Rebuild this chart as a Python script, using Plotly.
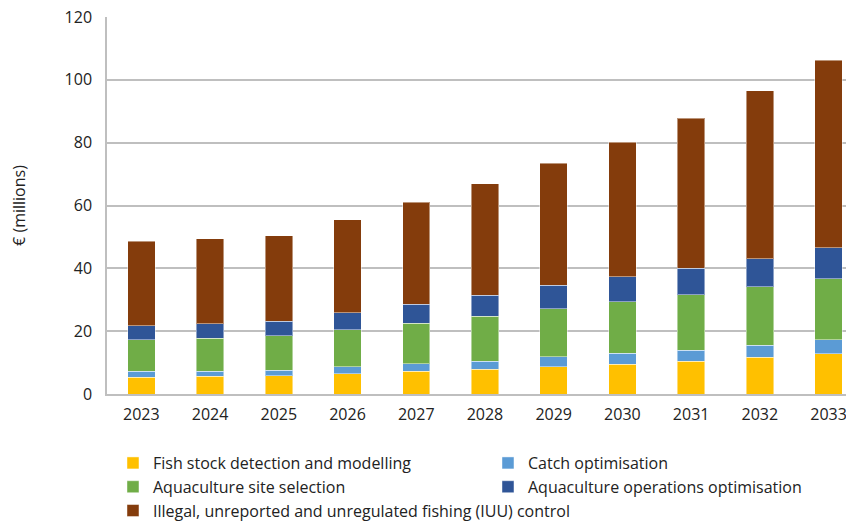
import plotly.graph_objects as go

years = ["2023", "2024", "2025", "2026", "2027", "2028", "2029", "2030", "2031", "2032", "2033"]

fish_stock = [5.4, 5.6, 5.8, 6.4, 7.2, 7.9, 8.6, 9.5, 10.5, 11.7, 12.8]
catch_opt = [1.8, 1.7, 1.8, 2.2, 2.4, 2.6, 3.2, 3.4, 3.5, 3.8, 4.4]
aqua_site = [10.0, 10.5, 10.9, 11.9, 13.0, 14.2, 15.4, 16.5, 17.6, 18.7, 19.5]
aqua_ops = [4.5, 4.6, 4.7, 5.3, 5.9, 6.7, 7.4, 7.9, 8.4, 8.8, 9.8]
iuu = [27.0, 27.0, 27.1, 29.6, 32.5, 35.6, 38.8, 42.9, 47.8, 53.6, 59.7]

series_names = [
    "Fish stock detection and modelling",
    "Catch optimisation",
    "Aquaculture site selection",
    "Aquaculture operations optimisation",
    "Illegal, unreported and unregulated fishing (IUU) control",
]
series_values = [fish_stock, catch_opt, aqua_site, aqua_ops, iuu]
series_colors = ["#FFC000", "#5B9BD5", "#70AD47", "#2F5597", "#843C0C"]
legend_widths = [330, 315, 330, 315, 315]

FONT = "Open Sans"
TXT = "#222222"

fig = go.Figure()
for name, vals, color, lw in zip(series_names, series_values, series_colors, legend_widths):
    fig.add_trace(go.Bar(
        x=years, y=vals, name=name, legendwidth=lw,
        marker=dict(color=color, line=dict(color="rgba(255,255,255,0.45)", width=1)),
    ))

# page body has an 8px default margin, so the figure is 8px smaller than the window
fig.update_layout(
    barmode="stack",
    bargap=0.6,
    width=846, height=513,
    margin=dict(l=99, r=0, t=9, b=127, autoexpand=False),
    plot_bgcolor="white",
    paper_bgcolor="white",
    font=dict(family=FONT, size=16, color=TXT),
    showlegend=True,
    legend=dict(
        orientation="h",
        x=0.008, xanchor="left",
        y=-0.138, yanchor="top",
        traceorder="normal",
        font=dict(family=FONT, size=16, color=TXT),
        itemclick=False,
    ),
)

fig.update_xaxes(
    type="category",
    range=[-0.5, 10.37],
    automargin=False,
    showline=True, linecolor="#BFBFBF", linewidth=1.5,
    showgrid=False,
    ticks="", ticklabelstandoff=5,
    tickfont=dict(family=FONT, size=16, color=TXT),
)
fig.update_yaxes(
    range=[0, 120], dtick=20,
    automargin=False,
    ticklabeloverflow="allow",
    showline=True, linecolor="#BFBFBF", linewidth=1.5,
    showgrid=True, gridcolor="#BFBFBF", gridwidth=1.5,
    zeroline=False,
    ticks="", ticklabelstandoff=10,
    tickfont=dict(family=FONT, size=16, color=TXT),
    title=dict(text="€ (millions)", standoff=37, font=dict(family=FONT, size=16, color=TXT)),
)

fig.write_html("out.html")
